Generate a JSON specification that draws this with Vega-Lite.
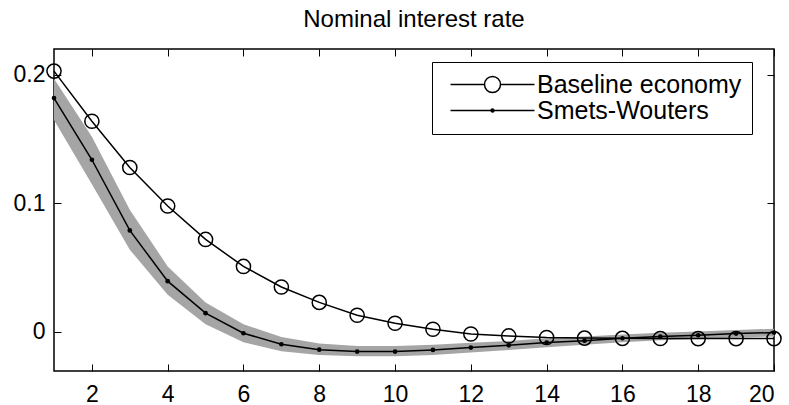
{
  "$schema": "https://vega.github.io/schema/vega-lite/v6.json",
  "autosize": "none",
  "width": 720,
  "height": 322,
  "padding": {"left": 54, "top": 49, "right": 15, "bottom": 34},
  "background": "white",
  "config": {
    "font": "Liberation Sans",
    "view": {"stroke": "black", "strokeWidth": 1.5},
    "axis": {"grid": false, "domain": false, "tickColor": "black", "tickWidth": 1, "labelColor": "black", "labelFont": "Liberation Sans", "labelFontSize": 23}
  },
  "title": {"text": "Nominal interest rate", "fontSize": 24, "fontWeight": "normal", "font": "Liberation Sans", "color": "black", "anchor": "middle", "baseline": "alphabetic", "offset": -2},
  "data": {"values": [
    {"t": 1, "series": "Baseline economy", "value": 0.203},
    {"t": 2, "series": "Baseline economy", "value": 0.164},
    {"t": 3, "series": "Baseline economy", "value": 0.128},
    {"t": 4, "series": "Baseline economy", "value": 0.098},
    {"t": 5, "series": "Baseline economy", "value": 0.072},
    {"t": 6, "series": "Baseline economy", "value": 0.051},
    {"t": 7, "series": "Baseline economy", "value": 0.035},
    {"t": 8, "series": "Baseline economy", "value": 0.023},
    {"t": 9, "series": "Baseline economy", "value": 0.013},
    {"t": 10, "series": "Baseline economy", "value": 0.0068},
    {"t": 11, "series": "Baseline economy", "value": 0.0021},
    {"t": 12, "series": "Baseline economy", "value": -0.0016},
    {"t": 13, "series": "Baseline economy", "value": -0.0031},
    {"t": 14, "series": "Baseline economy", "value": -0.0043},
    {"t": 15, "series": "Baseline economy", "value": -0.0048},
    {"t": 16, "series": "Baseline economy", "value": -0.005},
    {"t": 17, "series": "Baseline economy", "value": -0.0051},
    {"t": 18, "series": "Baseline economy", "value": -0.0052},
    {"t": 19, "series": "Baseline economy", "value": -0.0052},
    {"t": 20, "series": "Baseline economy", "value": -0.0052},
    {"t": 1, "series": "Smets-Wouters", "value": 0.182, "lo": 0.165, "hi": 0.197},
    {"t": 2, "series": "Smets-Wouters", "value": 0.134, "lo": 0.115, "hi": 0.152},
    {"t": 3, "series": "Smets-Wouters", "value": 0.079, "lo": 0.064, "hi": 0.095},
    {"t": 4, "series": "Smets-Wouters", "value": 0.0395, "lo": 0.029, "hi": 0.051},
    {"t": 5, "series": "Smets-Wouters", "value": 0.0146, "lo": 0.006, "hi": 0.023},
    {"t": 6, "series": "Smets-Wouters", "value": -0.001, "lo": -0.008, "hi": 0.006},
    {"t": 7, "series": "Smets-Wouters", "value": -0.0096, "lo": -0.015, "hi": -0.004},
    {"t": 8, "series": "Smets-Wouters", "value": -0.0138, "lo": -0.018, "hi": -0.009},
    {"t": 9, "series": "Smets-Wouters", "value": -0.0153, "lo": -0.019, "hi": -0.011},
    {"t": 10, "series": "Smets-Wouters", "value": -0.0153, "lo": -0.019, "hi": -0.011},
    {"t": 11, "series": "Smets-Wouters", "value": -0.014, "lo": -0.018, "hi": -0.010},
    {"t": 12, "series": "Smets-Wouters", "value": -0.0122, "lo": -0.016, "hi": -0.0085},
    {"t": 13, "series": "Smets-Wouters", "value": -0.0104, "lo": -0.014, "hi": -0.007},
    {"t": 14, "series": "Smets-Wouters", "value": -0.0083, "lo": -0.012, "hi": -0.005},
    {"t": 15, "series": "Smets-Wouters", "value": -0.0068, "lo": -0.010, "hi": -0.0035},
    {"t": 16, "series": "Smets-Wouters", "value": -0.0049, "lo": -0.008, "hi": -0.002},
    {"t": 17, "series": "Smets-Wouters", "value": -0.0036, "lo": -0.0065, "hi": -0.0007},
    {"t": 18, "series": "Smets-Wouters", "value": -0.0026, "lo": -0.0055, "hi": 0.0003},
    {"t": 19, "series": "Smets-Wouters", "value": -0.0013, "lo": -0.0043, "hi": 0.0015},
    {"t": 20, "series": "Smets-Wouters", "value": -0.0005, "lo": -0.0035, "hi": 0.0025}
  ]},
  "layer": [
    {
      "transform": [{"filter": "datum.series === 'Smets-Wouters'"}],
      "mark": {"type": "area", "color": "#a5a5a5", "opacity": 1},
      "encoding": {
        "x": {"field": "t", "type": "quantitative", "title": null,
          "scale": {"domain": [1, 20], "nice": false, "zero": false},
          "axis": {"orient": "bottom", "values": [2, 4, 6, 8, 10, 12, 14, 16, 18, 20], "tickSize": -7, "labelPadding": 19}},
        "y": {"field": "lo", "type": "quantitative", "title": null,
          "scale": {"domain": [-0.0304, 0.2202], "nice": false, "zero": false},
          "axis": {"orient": "left", "values": [0, 0.1, 0.2], "format": "~g", "tickSize": -7, "labelPadding": 16}},
        "y2": {"field": "hi"}
      }
    },
    {
      "mark": {"type": "line", "color": "black", "strokeWidth": 1.5},
      "encoding": {
        "x": {"field": "t", "type": "quantitative", "axis": null},
        "y": {"field": "value", "type": "quantitative", "axis": null},
        "detail": {"field": "series"}
      }
    },
    {
      "transform": [{"filter": "datum.series === 'Baseline economy'"}],
      "mark": {"type": "point", "filled": false, "stroke": "black", "strokeWidth": 1.5, "size": 200, "opacity": 1},
      "encoding": {
        "x": {"field": "t", "type": "quantitative", "axis": null},
        "y": {"field": "value", "type": "quantitative", "axis": null}
      }
    },
    {
      "transform": [{"filter": "datum.series === 'Smets-Wouters'"}],
      "mark": {"type": "point", "filled": true, "fill": "black", "size": 22, "opacity": 1},
      "encoding": {
        "x": {"field": "t", "type": "quantitative", "axis": null},
        "y": {"field": "value", "type": "quantitative", "axis": null}
      }
    },
    {
      "mark": {"type": "point", "filled": false, "opacity": 0},
      "encoding": {
        "x": {"field": "t", "type": "quantitative", "axis": null},
        "y": {"field": "value", "type": "quantitative", "axis": null},
        "shape": {"field": "series", "type": "nominal",
          "scale": {"domain": ["Baseline economy", "Smets-Wouters"],
            "range": ["M-0.4,0H3M4.6,0H8M3,0A0.8,0.8 0 1,0 4.6,0A0.8,0.8 0 1,0 3,0", "M-0.4,0H8M3.65,0A0.15,0.15 0 1,0 3.95,0A0.15,0.15 0 1,0 3.65,0"]},
          "legend": {"title": null, "orient": "none", "legendX": 378, "legendY": 13,
            "symbolSize": 400, "symbolOpacity": 1, "symbolStrokeColor": "black", "symbolFillColor": "transparent", "symbolStrokeWidth": 1.5,
            "labelFontSize": 25, "labelFont": "Liberation Sans", "labelColor": "black", "labelOffset": 70,
            "labelExpr": "datum.label + '\u00a0\u00a0'",
            "padding": 10, "rowPadding": 0, "strokeColor": "black", "fillColor": "white", "labelLimit": 400}
        }
      }
    },
    {
      "mark": {"type": "rule", "opacity": 0},
      "encoding": {
        "x": {"field": "t", "type": "quantitative", "axis": {"orient": "top", "values": [2, 4, 6, 8, 10, 12, 14, 16, 18, 20], "labels": false, "tickSize": -7, "title": null}},
        "y": {"field": "value", "type": "quantitative", "axis": {"orient": "right", "values": [0, 0.1, 0.2], "labels": false, "tickSize": -7, "title": null}}
      }
    }
  ],
  "resolve": {"axis": {"x": "independent", "y": "independent"}}
}
